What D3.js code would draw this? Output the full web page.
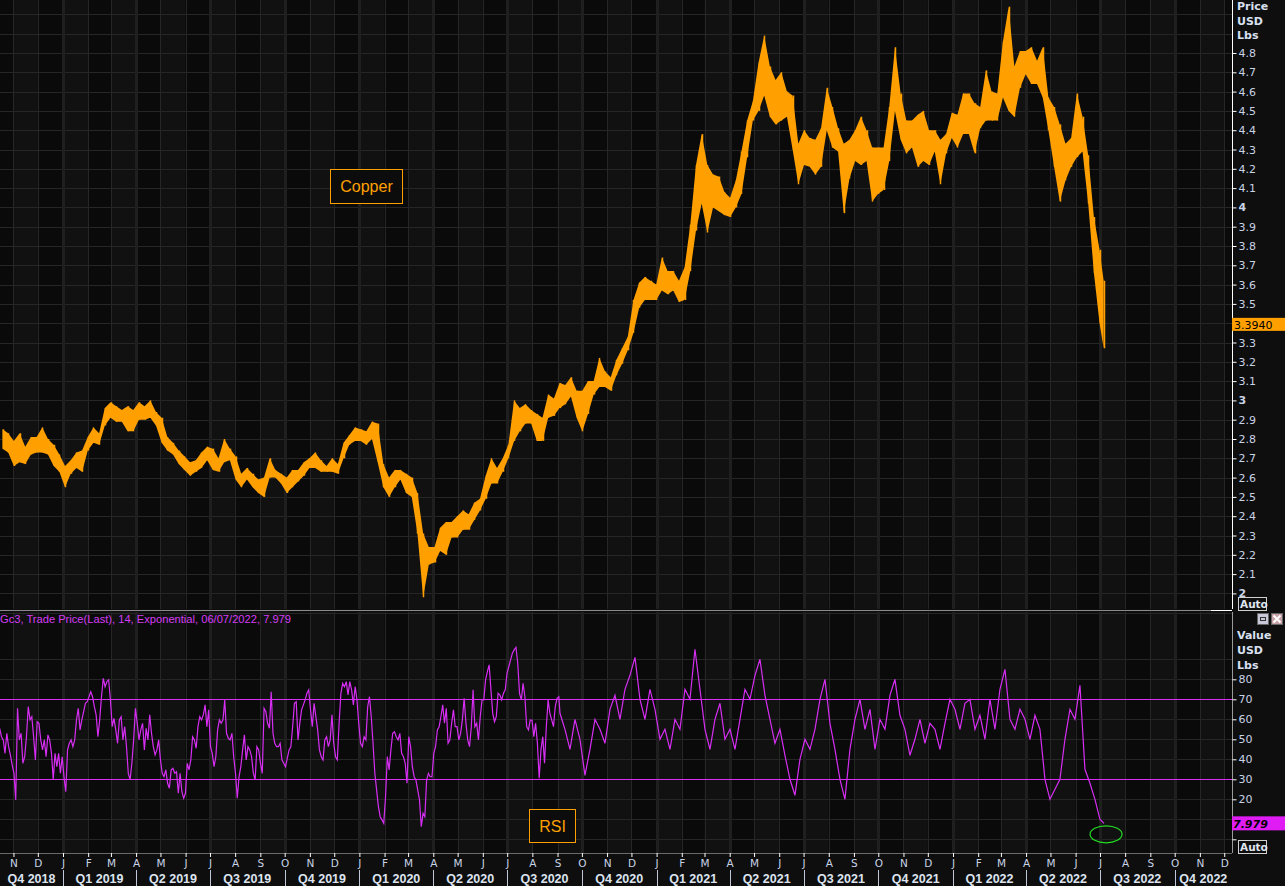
<!DOCTYPE html>
<html><head><meta charset="utf-8">
<script src="https://cdn.jsdelivr.net/npm/d3@7"></script>
<style>html,body{margin:0;padding:0;background:#0e0e0e;overflow:hidden}svg{display:block}</style>
</head><body>
<svg id="chart" width="1285" height="886"></svg>
<script>
// ---------------- DATA ----------------
const seriesName = "Copper";
const indicatorName = "RSI";
const headerText = "Gc3, Trade Price(Last),  14, Exponential, 06/07/2022, 7.979";
const firstWeek = "2018-10-15";      // Monday of first weekly bar
const lastDate = "2022-07-06";
// weekly low / high of the daily candles (USD/lb)
const weekLow = [2.75,2.73,2.66,2.68,2.67,2.72,2.73,2.73,2.72,2.66,2.63,2.55,2.62,2.65,2.63,2.74,2.78,2.77,2.87,2.91,
2.89,2.89,2.84,2.84,2.90,2.90,2.91,2.87,2.78,2.74,2.72,2.67,2.64,2.61,2.63,2.65,2.69,2.64,2.63,2.68,
2.69,2.59,2.55,2.59,2.55,2.52,2.50,2.60,2.60,2.57,2.52,2.55,2.58,2.61,2.65,2.65,2.63,2.63,2.63,2.62,
2.70,2.77,2.79,2.79,2.77,2.80,2.68,2.55,2.50,2.55,2.59,2.52,2.50,2.31,1.98,2.15,2.16,2.22,2.20,2.29,
2.29,2.33,2.33,2.38,2.43,2.49,2.57,2.57,2.63,2.70,2.79,2.84,2.88,2.88,2.79,2.79,2.91,2.92,2.96,2.98,
3.02,2.91,2.84,2.93,3.03,3.07,3.07,3.05,3.13,3.19,3.26,3.35,3.48,3.52,3.52,3.52,3.57,3.55,3.57,3.51,
3.52,3.67,3.88,4.02,3.87,4.00,3.98,3.96,3.95,4.00,4.07,4.26,4.45,4.50,4.58,4.47,4.43,4.45,4.47,4.30,
4.12,4.22,4.21,4.17,4.21,4.40,4.31,4.29,3.97,4.15,4.24,4.22,4.24,4.03,4.07,4.09,4.24,4.50,4.35,4.28,
4.31,4.21,4.24,4.22,4.29,4.12,4.28,4.36,4.31,4.38,4.38,4.28,4.41,4.45,4.45,4.45,4.57,4.50,4.47,4.62,
4.69,4.64,4.64,4.57,4.40,4.21,4.03,4.14,4.21,4.26,4.29,4.02,3.66,3.40,3.27];
const weekHigh = [2.85,2.83,2.79,2.83,2.76,2.81,2.81,2.86,2.80,2.77,2.72,2.66,2.69,2.73,2.74,2.81,2.86,2.83,2.96,2.99,
2.97,2.95,2.97,2.95,2.99,2.97,3.00,2.94,2.91,2.81,2.78,2.74,2.71,2.68,2.69,2.73,2.76,2.75,2.70,2.80,
2.75,2.71,2.62,2.65,2.62,2.59,2.60,2.70,2.64,2.62,2.60,2.64,2.64,2.68,2.70,2.73,2.69,2.66,2.70,2.67,
2.78,2.82,2.86,2.85,2.84,2.89,2.88,2.67,2.60,2.64,2.64,2.62,2.60,2.52,2.31,2.24,2.24,2.34,2.37,2.37,
2.40,2.43,2.41,2.47,2.49,2.61,2.70,2.65,2.70,2.77,3.00,2.96,2.98,2.95,2.93,2.91,3.03,3.01,3.09,3.08,
3.12,3.05,3.05,3.10,3.10,3.22,3.15,3.12,3.21,3.27,3.33,3.52,3.61,3.64,3.62,3.60,3.74,3.67,3.67,3.62,
3.69,3.91,4.22,4.38,4.22,4.17,4.16,4.08,4.05,4.14,4.29,4.45,4.55,4.75,4.89,4.73,4.66,4.70,4.60,4.58,
4.33,4.40,4.36,4.35,4.41,4.62,4.52,4.41,4.33,4.35,4.40,4.47,4.40,4.31,4.31,4.31,4.52,4.83,4.59,4.45,
4.45,4.48,4.50,4.40,4.40,4.35,4.38,4.49,4.48,4.59,4.59,4.54,4.52,4.71,4.60,4.59,4.86,5.04,4.73,4.81,
4.81,4.83,4.76,4.83,4.57,4.52,4.43,4.33,4.36,4.59,4.47,4.27,3.95,3.78,3.62];
const lastPrice = 3.3940;

// RSI(14) readings, evenly spaced every rsiStepDays from rsiStart
const rsiStart = "2018-10-15";
const rsiStepDays = 2.2;
const rsiValues = [55.5,51.3,49.7,43,53,46.3,42.2,37.2,33,19.7,65.5,49.7,53,38,41.3,51.3,66.3,59.7,61.3,51.3,
39.7,58.8,58,49.7,44.7,49.7,41.3,52.2,49.7,43,29.7,43,36.3,43,33,41.3,31.3,23.8,44.7,48,
49.7,46.3,49.7,59.7,65.5,54.7,59.7,63.8,68,68.8,71.3,73.8,71.3,66.3,62.2,51.3,59.7,71.3,80.5,76.3,
78.8,79.7,69.7,56.3,60.5,54.7,48,59.7,61.3,49.7,56.3,46.3,33,29.7,38,49.7,65.5,58,49.7,54.7,
58,44.7,55.5,49.7,62.2,53,46.3,42.2,44.7,49.7,39.7,33,31.3,34.7,28,25.5,34.7,35.5,33,33.8,
23,33,23.8,20.5,23,38,34.7,39.7,51.3,49.7,45.5,56.3,61.3,59.7,62.2,67.2,56.3,64.7,46.3,43,
36.3,41.3,54.7,59.7,58,59.7,69.7,53,50.5,49.7,53,41.3,33,20.5,31.3,36.3,44.7,52.2,39.7,46.3,
44.7,41.3,33,29.7,46.3,44.7,38,33,65.5,63.8,58,55.5,73.8,53,48,46.3,46.3,48,39.7,38,
36.3,40.5,44.7,46.3,56.3,68,68.8,49.7,58,64.7,67.2,69.7,73,74.7,64.7,56.3,68,61.3,54.7,44.7,
41.3,39.7,49.7,51.3,46.3,49.7,62.2,48,41.3,39.7,58,73,78,76.3,78.8,72.2,78.8,74.7,67.2,76.3,
69.7,58,48,46.3,51.3,49.7,66.3,71.3,61.3,48,33,24.7,16.3,11.3,9.7,8,21.3,41.3,34.7,44.7,
53,53.8,51.3,49.7,53,43,41.3,38,28,51.3,46.3,36.3,31.3,29.7,24.7,19.7,6.3,13,11.3,29.7,
33,31.3,31.3,43,46.3,54.7,56.3,61.3,67.2,58,65.5,48,49.7,58,64.7,56.3,56.3,49.7,53,59.7,
70.5,58,49.7,46.3,56.3,74.7,56.3,58,49.7,61.3,69.7,69.7,79.7,83.8,87.2,74.7,63,58.8,61.3,73,
72.2,69.7,73,74.7,83,86.3,89.7,93,94.7,96,88,73,69.7,78,71.3,56.3,54.7,59.7,59.5,51.3,
58,48,30.5,44.7,51.3,38,56.3,69.7,63,59.7,56.3,66.3,70.5,71.3];
const rsiTailStart = "2020-09-04";
const rsiTailStepDays = 6.157;
const rsiTail = [63,55,45,60,50,32,45,60,55,48,65,72,60,75,82,91,70,60,75,65,
50,55,45,60,55,75,70,95,75,55,45,60,68,50,55,45,60,75,70,82,
90,72,60,48,55,42,30,22,40,50,45,55,70,80,58,45,30,20,45,60,
70,55,65,45,60,55,72,80,62,55,42,50,60,48,58,55,45,58,70,65,
55,68,70,55,62,50,70,55,75,85,60,55,65,60,50,62,55,30,20,25,
30,50,65,60,77,35,28,20,10];
const rsiLast = 7.979;

const priceTicks = [2,2.1,2.2,2.3,2.4,2.5,2.6,2.7,2.8,2.9,3,3.1,3.2,3.3,3.5,3.6,3.7,3.8,3.9,4,4.1,4.2,4.3,4.4,4.5,4.6,4.7,4.8];
const priceGrid = [1.9,2,2.1,2.2,2.3,2.4,2.5,2.6,2.7,2.8,2.9,3,3.1,3.2,3.3,3.4,3.5,3.6,3.7,3.8,3.9,4,4.1,4.2,4.3,4.4,4.5,4.6,4.7,4.8,4.9,5.0];
const rsiTicks = [20,30,40,50,60,70,80];
const rsiGrid = [0,10,20,40,50,60,80,90];
const rsiBands = [30,70];
const monthLetters = ["J","F","M","A","M","J","J","A","S","O","N","D"];
const priceAxisTitle = ["Price","USD","Lbs"];
const rsiAxisTitle = ["Value","USD","Lbs"];

// ---------------- LAYOUT ----------------
const W = 1285, H = 886;
const plotR = 1232;
const pTop = 0, pBot = 609;
const rTop = 612, rBot = 853;
const ORANGE = "#ffa000", MAG = "#d62ef2", GRID = "#262626", TXT = "#c9d3e6";
const FONT = "'DejaVu Sans', sans-serif";
const FONT2 = "'Liberation Sans', Arial, sans-serif";

const svg = d3.select("#chart");
const parse = d3.timeParse("%Y-%m-%d");
const day = 864e5;

const x = d3.scaleTime().domain([new Date(2019,0,1), new Date(2022,0,1)]).range([63, 953]);
const y = d3.scaleLinear().domain([2.0, 4.8]).range([593.4, 53]);
const yr = d3.scaleLinear().domain([0, 70]).range([839.3, 699.3]);

const xStart = x.invert(0), xEnd = x.invert(plotR);

svg.append("rect").attr("width",W).attr("height",H).attr("fill","#0e0e0e");

// month bands
const months = d3.timeMonth.range(d3.timeMonth.floor(xStart), xEnd);
[[pTop,pBot],[rTop,rBot]].forEach(([t,b]) => {
  svg.append("g").selectAll("rect").data(months).join("rect")
    .attr("x", d => Math.max(0, x(d)))
    .attr("width", d => Math.min(plotR, x(d3.timeMonth.offset(d,1))) - Math.max(0, x(d)))
    .attr("y", t).attr("height", b - t)
    .attr("fill", d => d.getMonth() % 2 === 1 ? "#0a0a0a" : "#111111");
});

// horizontal grids
svg.append("g").selectAll("line").data(priceGrid).join("line")
  .attr("x1",0).attr("x2",plotR).attr("y1",d=>Math.round(y(d))+0.5).attr("y2",d=>Math.round(y(d))+0.5)
  .attr("stroke",GRID);
svg.append("g").selectAll("line").data(rsiGrid).join("line")
  .attr("x1",0).attr("x2",plotR).attr("y1",d=>Math.round(yr(d))+0.5).attr("y2",d=>Math.round(yr(d))+0.5)
  .attr("stroke",GRID);

// vertical grids
const monthTicks = d3.timeMonth.range(d3.timeMonth.ceil(xStart), xEnd);
[[pTop,pBot],[rTop,rBot]].forEach(([t,b]) => {
  svg.append("g").selectAll("line").data(monthTicks).join("line")
    .attr("x1",d=>Math.round(x(d))+0.5).attr("x2",d=>Math.round(x(d))+0.5)
    .attr("y1",t).attr("y2",b)
    .attr("stroke", d => d.getMonth()%3===0 ? "#1f1f1f" : GRID)
    .attr("stroke-width", d => d.getMonth()%3===0 ? 3 : 1);
});

// ---- price ribbon (weekly low-high range of daily candles) ----
const w0 = parse(firstWeek), dEnd = parse(lastDate);
const weeks = weekLow.map((lo,i) => {
  const s = new Date(+w0 + i*7*day);
  let e = new Date(+s + 7*day);
  if (e > dEnd) e = new Date(+dEnd + day);
  return {s, e, m: new Date((+s + +e)/2), lo, hi: weekHigh[i]};
});
svg.append("path").datum(weeks)
  .attr("d", d3.area().x(d=>x(d.m)).y0(d=>y(d.lo)).y1(d=>y(d.hi)).curve(d3.curveLinear))
  .attr("fill", ORANGE);
svg.append("g").selectAll("line").data(weeks).join("line")
  .attr("x1", d=>Math.round(x(d.m))+0.5).attr("x2", d=>Math.round(x(d.m))+0.5)
  .attr("y1", d=>y(d.hi)).attr("y2", d=>y(d.lo))
  .attr("stroke", ORANGE).attr("stroke-width", 1.5);

// ---- RSI ----
svg.append("g").selectAll("line").data(rsiBands).join("line")
  .attr("x1",0).attr("x2",plotR).attr("y1",d=>Math.round(yr(d))+0.5).attr("y2",d=>Math.round(yr(d))+0.5)
  .attr("stroke",MAG);
const r0 = parse(rsiStart), rt0 = parse(rsiTailStart);
const rsiPts = rsiValues.map((v,i)=>({d:new Date(+r0 + i*rsiStepDays*day), v}))
  .concat(rsiTail.map((v,i)=>({d:new Date(+rt0 + i*rsiTailStepDays*day), v})))
  .concat([{d:dEnd, v:rsiLast}]);
svg.append("path").datum(rsiPts)
  .attr("d", d3.line().x(p=>x(p.d)).y(p=>yr(p.v)))
  .attr("fill","none").attr("stroke",MAG).attr("stroke-width",1.2);

svg.append("ellipse").attr("cx", x(dEnd)+2).attr("cy", yr(2.5)).attr("rx",16).attr("ry",8.5)
  .attr("fill","none").attr("stroke","#22dd22").attr("stroke-width",1.2);

// ---- panel separators ----
svg.append("line").attr("x1",0).attr("x2",1211).attr("y1",pBot+1.5).attr("y2",pBot+1.5).attr("stroke","#8a8a8a");
svg.append("line").attr("x1",1211).attr("x2",plotR).attr("y1",pBot+1.5).attr("y2",pBot+1.5).attr("stroke","#ffffff");
svg.append("line").attr("x1",0).attr("x2",plotR).attr("y1",rBot+0.5).attr("y2",rBot+0.5).attr("stroke","#6a6a6a");

// ---- right axes ----
const pAxis = svg.append("g").attr("transform",`translate(${plotR+0.5},0)`)
  .call(d3.axisRight(y).tickValues(priceTicks).tickSize(4).tickFormat(d=>d3.format("")(+d.toFixed(1))));
pAxis.select(".domain").attr("d",`M0,${pTop}V${pBot}`).attr("stroke","#ffffff");
pAxis.selectAll(".tick line").attr("stroke","#ffffff");
pAxis.selectAll(".tick text").attr("x",6).attr("fill",TXT).attr("font-family",FONT).attr("font-size",11)
  .attr("font-weight", d => Number.isInteger(d) ? "bold" : "normal");

const rAxis = svg.append("g").attr("transform",`translate(${plotR+0.5},0)`)
  .call(d3.axisRight(yr).tickValues(rsiTicks.concat([0])).tickSize(4).tickFormat(d=> d===0 ? "" : d));
rAxis.select(".domain").attr("d",`M0,${rTop}V${rBot}`).attr("stroke","#9a9a9a");
rAxis.selectAll(".tick line").attr("stroke","#ffffff");
rAxis.selectAll(".tick text").attr("x",6).attr("fill",TXT).attr("font-family",FONT).attr("font-size",11);

priceAxisTitle.forEach((t,i)=> svg.append("text").attr("x",1237).attr("y",10+i*14.5).text(t)
  .attr("fill","#d8e0f0").attr("font-family",FONT).attr("font-size",11).attr("font-weight","bold"));
rsiAxisTitle.forEach((t,i)=> svg.append("text").attr("x",1237).attr("y",639+i*15).text(t)
  .attr("fill","#d8e0f0").attr("font-family",FONT).attr("font-size",11).attr("font-weight","bold"));

const ly = y(lastPrice);
svg.append("rect").attr("x",plotR).attr("y",ly-6.5).attr("width",W-plotR).attr("height",13).attr("fill",ORANGE);
svg.append("text").attr("x",plotR+2).attr("y",ly+4.5).text(lastPrice.toFixed(4))
  .attr("fill","#000").attr("font-family",FONT).attr("font-size",11);
const ry = yr(rsiLast);
svg.append("rect").attr("x",plotR).attr("y",ry-7).attr("width",W-plotR).attr("height",14).attr("fill","#e01cf5");
svg.append("text").attr("x",plotR+1).attr("y",ry+4.5).text(rsiLast.toFixed(3))
  .attr("fill","#000").attr("font-family",FONT).attr("font-size",11).attr("font-weight","bold").attr("font-style","italic");

[[597],[840]].forEach(([yy])=>{
  svg.append("rect").attr("x",1238.5).attr("y",yy+0.5).attr("width",28).attr("height",13)
    .attr("fill","none").attr("stroke","#d0d0d0");
  svg.append("text").attr("x",1240).attr("y",yy+11).text("Auto").attr("fill","#e0e6f0")
    .attr("font-family",FONT).attr("font-size",10.5).attr("font-weight","bold");
});

svg.append("rect").attr("x",1257.5).attr("y",613.5).attr("width",11).attr("height",11).attr("fill","#c8c8d8").attr("stroke","#666");
svg.append("rect").attr("x",1260.5).attr("y",617.5).attr("width",5).attr("height",3).attr("fill","none").attr("stroke","#333");
svg.append("rect").attr("x",1271.5).attr("y",613.5).attr("width",11).attr("height",11).attr("fill","#c8a0a8").attr("stroke","#666");
svg.append("path").attr("d","M1273.5,615.5L1280.5,622.5M1280.5,615.5L1273.5,622.5").attr("stroke","#fff").attr("stroke-width",2);

svg.append("text").attr("x",0).attr("y",623).text(headerText)
  .attr("fill","#d63cf5").attr("font-family",FONT2).attr("font-size",11.5)
  .attr("textLength",291).attr("lengthAdjust","spacingAndGlyphs");

function boxLabel(t, bx, by, bw, bh){
  svg.append("rect").attr("x",bx+0.5).attr("y",by+0.5).attr("width",bw).attr("height",bh)
    .attr("fill","#0c0c0c").attr("stroke",ORANGE);
  svg.append("text").attr("x",bx+bw/2+0.5).attr("y",by+bh/2+6).attr("text-anchor","middle").text(t)
    .attr("fill",ORANGE).attr("font-family",FONT2).attr("font-size",16);
}
boxLabel(seriesName, 330, 169, 72, 34);
boxLabel(indicatorName, 529, 809, 46, 33);

// ---- date axis ----
const xAxis = svg.append("g").attr("transform",`translate(0,${rBot})`)
  .call(d3.axisBottom(x).tickValues(monthTicks).tickSize(4).tickFormat(d=>monthLetters[d.getMonth()]));
xAxis.select(".domain").remove();
xAxis.selectAll(".tick line").attr("stroke","#ffffff");
xAxis.selectAll(".tick text").attr("y",7).attr("fill",TXT).attr("font-family",FONT).attr("font-size",10.5);

const quarters = d3.timeMonth.every(3).range(d3.timeMonth.every(3).floor(xStart), xEnd);
svg.append("g").selectAll("line").data(quarters.filter(q=>x(q)>0)).join("line")
  .attr("x1",d=>Math.round(x(d))+0.5).attr("x2",d=>Math.round(x(d))+0.5)
  .attr("y1",870).attr("y2",886).attr("stroke","#c0c8d8");
svg.append("g").selectAll("text").data(quarters).join("text")
  .attr("x", q => (Math.max(0,x(q)) + Math.min(plotR, x(d3.timeMonth.offset(q,3))))/2)
  .attr("y", 883).attr("text-anchor","middle")
  .text(q => `Q${Math.floor(q.getMonth()/3)+1} ${q.getFullYear()}`)
  .attr("fill","#dde4f0").attr("font-family",FONT2).attr("font-size",12.5).attr("font-weight","bold");
</script>
</body></html>
